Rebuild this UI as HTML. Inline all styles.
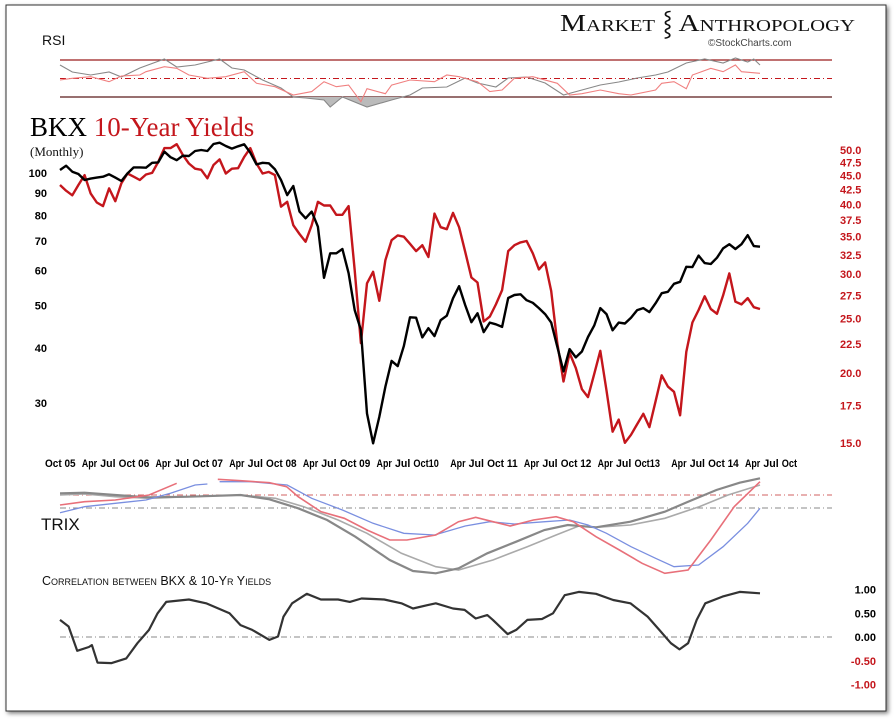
<!DOCTYPE html>
<html><head><meta charset="utf-8">
<style>
html,body{margin:0;padding:0;background:#fff;}
svg{display:block;}
.sans{font-family:"Liberation Sans",sans-serif;}
.serif{font-family:"Liberation Serif",serif;}
.ax{font-family:"Liberation Sans Narrow","Liberation Sans",sans-serif;font-weight:bold;font-size:11px;}
</style></head>
<body>
<svg id="chart" width="896" height="720" viewBox="0 0 896 720" xmlns="http://www.w3.org/2000/svg">
<defs><filter id="sh" x="-5%" y="-5%" width="110%" height="110%"><feDropShadow dx="2" dy="2" stdDeviation="2" flood-color="#000" flood-opacity="0.5"/></filter></defs>
<rect x="6" y="5" width="880" height="706" fill="#fff" stroke="#333" stroke-width="1" filter="url(#sh)"/>
<text class="serif" x="560" y="31" font-size="24" fill="#111" style="font-variant:small-caps" textLength="295" lengthAdjust="spacingAndGlyphs">Market ⸾ Anthropology</text>
<text class="sans" x="708" y="46" font-size="10" fill="#444">©StockCharts.com</text>
<text class="sans" x="42" y="45" font-size="14" fill="#111">RSI</text>
<g id="rsi"></g>
<text class="serif" x="30" y="136" font-size="27" fill="#000">BKX <tspan fill="#c4161c">10-Year Yields</tspan></text>
<text class="serif" x="30" y="156" font-size="13" fill="#111">(Monthly)</text>
<g id="main"></g>
<text class="sans" x="41" y="530" font-size="17" fill="#111">TRIX</text>
<g id="trix"></g>
<text class="sans" x="42" y="585" font-size="12.5" fill="#111" style="font-variant:small-caps">Correlation between BKX &amp; 10-Yr Yields</text>
<g id="corr"></g>
</svg>
<script>
// ---- main chart data (monthly, Oct 2005 .. Apr 2015) ----
const bkx = [101.6,103.9,100.7,99.5,96.4,97.1,97.6,98.1,99.3,97.6,95.9,99.8,103,103,102.8,105.5,105.7,111.8,108.6,106.9,109.5,109.3,112.2,112.8,112.2,116.4,117.2,115.2,113.6,115,116.2,111.2,104.6,105.5,105.2,102,96.4,89.1,93.4,81.7,78.9,81.7,75.5,57.8,65.7,65.7,67.2,59.2,48.8,44,28.4,24.3,27.9,32.7,37.4,36.4,40.4,47,46.9,42.3,44.4,42.6,46.3,47.4,51.9,55.3,50.1,45.8,48,43.5,45.7,45.3,44.7,52,52.8,53,51.4,50.7,49.3,47.8,45.7,40.3,35.4,39.8,38.1,39.3,42.4,45,49.3,47.8,43.9,45.7,45.5,46.9,48.8,49.3,48.3,50.6,53.3,53.7,56,56.6,61.2,61.1,64.9,62.4,62.1,64.2,67.4,68.9,67.2,68.9,72.2,68.2,68];
const yields = [43.3,42.3,41.5,43.3,45.1,41.8,40.3,39.7,42.7,40.5,43.6,45.4,44.8,44.2,45.2,45.5,47.6,50.4,50.4,51.2,49.0,47.3,46.3,46.1,44.5,47.0,48.1,45.4,46.3,46.4,48.6,50.4,47.3,45.4,45.7,45.1,39.6,40.4,36.7,35.4,34.3,36.7,40.4,39.8,39.8,38.3,38.3,39.7,30.5,22.6,28.9,30.3,26.9,31.8,34.5,35.2,35.0,34.0,33.0,33.8,32.2,38.5,36.4,36.1,38.6,36.4,32.9,29.6,29.0,24.7,25.2,26.5,28.1,33.0,33.8,34.2,34.4,32.7,30.6,31.5,28.0,22.6,19.3,21.7,20.4,18.7,18.1,19.9,21.9,18.6,15.7,16.5,15.0,15.5,16.2,16.9,16.0,17.8,19.8,18.9,18.5,16.8,21.8,24.6,25.9,27.4,26.0,25.5,27.5,30.1,26.8,26.5,27.2,26.2,26.0];
const bkxTicks = [100,90,80,70,60,50,40,30];
const yieldTicks = [50.0,47.5,45.0,42.5,40.0,37.5,35.0,32.5,30.0,27.5,25.0,22.5,20.0,17.5,15.0];
const monthLabels = ["Oct 05","Apr","Jul","Oct 06","Apr","Jul","Oct 07","Apr","Jul","Oct 08","Apr","Jul","Oct 09","Apr","Jul","Oct10","Apr","Jul","Oct 11","Apr","Jul","Oct 12","Apr","Jul","Oct13","Apr","Jul","Oct 14","Apr","Jul","Oct"];
const monthLabelIdx = [0,6,9,12,18,21,24,30,33,36,42,45,48,54,57,60,66,69,72,78,81,84,90,93,96,102,105,108,114,117,120];
// ---- RSI ----
const rsiGrayIdx = [0,2,5,8,10,13,17,19,22,26,28,30,33,36,38,40,43,44,46,50,54,57,59,63,66,68,71,73,76,79,82,85,88,91,94,97,99,102,105,108,110,112,113,114];
const rsiGray = [64.6,57,53.8,57,51.6,61.4,71.1,62.4,64.6,71.1,61.4,59.2,48.4,39.7,30,28.9,26.8,19.2,30,19.2,26.8,32.2,39.7,40.8,50.5,45.1,40.8,50.5,51.6,45.1,32.2,37.6,43,46.2,50.5,53.8,57,66.8,71.1,66.8,72.2,67.8,71.1,64.6];
const rsiRedIdx = [0,2,5,8,10,13,14,17,19,21,24,27,30,32,35,38,41,43,45,47,49,50,53,54,57,61,63,65,68,70,72,74,77,81,83,85,88,91,93,97,98,100,102,103,106,108,110,111,114];
const rsiRed = [48.4,50.2,51.9,46.5,52.7,53.8,57.4,62.8,61,53.8,50.2,51.9,57.4,44.8,41.1,32.2,35.8,46.5,41.1,42.9,24.9,39,33.6,42.9,48.4,46.5,53.8,51.9,46.5,35.8,37.6,50.2,51.9,44.8,32.2,33.6,37.6,33.6,32.2,37.6,44.8,46.5,39,53.8,61,57.4,64.6,57.4,55.6];
// ---- TRIX ----
const trixDarkIdx = [0,4,9,14.5,21,29.4,34.1,38.8,43.5,48.1,53.7,57.5,61.2,64.9,69.6,74.3,78.9,82.7,87.3,92.9,98.5,102.3,106.9,110.7,114];
const trixDark = [1.47,1.53,1.3,1.07,1.13,1.3,0.87,-0.03,-1.2,-2.87,-5.2,-6.3,-6.53,-6.03,-4.53,-3.37,-2.2,-1.7,-1.93,-1.37,-0.37,0.63,1.8,2.53,2.97];
const trixLightIdx = [0,4,9,14.5,21,29.4,35.1,39.7,45.3,50,55.6,61.2,64.9,70.5,76.1,80.8,84.5,87.3,92.9,98.5,104.1,108.8,114];
const trixLight = [1.3,1.4,1.13,0.97,1.13,1.3,0.97,0.13,-1.2,-2.53,-4.53,-5.87,-6.2,-5.2,-3.87,-2.7,-1.8,-1.93,-1.7,-1.03,0.13,1.3,2.3];
const trixRedIdx = [0,4,9,14.5,19,22,25.7,29.4,34.1,36.9,38.8,42.5,46.3,50,53.7,56.5,61.2,64.9,67.7,70.5,73.3,77.1,80.8,83.6,87.3,91.1,94.8,98.5,102.3,106,109.8,114];
const trixRed = [0.3,0.63,0.8,1.3,2.47,null,2.87,2.73,2.53,2.13,1.13,-0.37,-1.03,-2.2,-3.2,-3.2,-2.7,-1.37,-0.93,-1.37,-1.8,-1.2,-0.87,-1.37,-2.87,-4.2,-5.53,-6.53,-6.2,-3.2,0.13,2.63];
const trixBlueIdx = [0,4,9,14,18,22,24,25,26,31,37,41,46,51,56,61,66,70,74,79,83,86,89,93,97,100,104,108,112,114];
const trixBlue = [-0.47,0.13,0.47,0.8,1.47,2.3,2.4,null,2.63,2.63,2.3,0.97,-0.2,-1.53,-2.53,-2.7,-1.8,-1.37,-1.6,-1.37,-1.2,-1.7,-2.53,-3.87,-5.03,-5.87,-5.7,-3.87,-1.53,-0.03];
// ---- Correlation ----
const corrIdx = [0,1.4,2.8,4.7,5.2,6.1,8.4,10.8,12.6,14.5,15.9,17.3,21,23.8,27.6,29.4,31.3,34.1,35.5,36.4,37.8,40.2,42.5,45.3,47.2,49.1,52.8,55.6,57.5,59.8,61.2,64,65.9,67.7,69.6,70.5,72.9,74.3,76.1,78.5,80.3,82.2,84.5,87.3,90.1,92.9,95.7,97.6,99.5,100.9,102.3,103.7,105.1,107.9,110.7,114];
const corr = [0.36,0.22,-0.29,-0.21,-0.17,-0.54,-0.55,-0.45,-0.13,0.15,0.5,0.74,0.79,0.71,0.5,0.25,0.15,-0.06,0.01,0.43,0.71,0.91,0.79,0.79,0.74,0.81,0.79,0.71,0.6,0.67,0.71,0.6,0.57,0.39,0.46,0.36,0.06,0.15,0.36,0.38,0.5,0.88,0.95,0.91,0.78,0.71,0.43,0.15,-0.13,-0.26,-0.13,0.36,0.71,0.85,0.95,0.92];
const corrTicks = [1.00,0.50,0.00,-0.50,-1.00];

const NS="http://www.w3.org/2000/svg";
const X = i => 60 + i*6.14;
const yBkx = v => 173 + 440*Math.log10(100/v);
const yYld = v => 150 + 560*Math.log10(50/v);
const yRsi = v => 60 + (70-v)*37/40;
const yTrix = v => 508 - v*10;
const yCorr = v => 637 - v*47.5;
function mk(tag, attrs, parent){const e=document.createElementNS(NS,tag);for(const k in attrs)e.setAttribute(k,attrs[k]);parent.appendChild(e);return e;}
function pathD(idx, vals, fy){let d="",pen=false;for(let i=0;i<vals.length;i++){if(vals[i]===null){pen=false;continue;}d+=(pen?"L":"M")+X(idx?idx[i]:i).toFixed(1)+","+fy(vals[i]).toFixed(1);pen=true;}return d;}
const g=id=>document.getElementById(id);

// RSI panel
const rsi=g('rsi');
let l;
l=mk('line',{x1:60,x2:832,y1:60,y2:60,stroke:'#9b1c1c','stroke-width':1.2},rsi);

l=mk('line',{x1:60,x2:832,y1:78.5,y2:78.5,stroke:'#c4161c','stroke-width':1,'stroke-dasharray':'6,3,1,3'},rsi);

l=mk('line',{x1:60,x2:832,y1:97,y2:97,stroke:'#5a1a1a','stroke-width':1.2},rsi);

const cp=mk('clipPath',{id:'below'},rsi);mk('rect',{x:0,y:97,width:896,height:20},cp);
let a=mk('path',{d:pathD(rsiGrayIdx,rsiGray,yRsi)+'L'+X(114)+',97L'+X(0)+',97Z',fill:'#bbb','clip-path':'url(#below)'},rsi);

let p=mk('path',{d:pathD(rsiGrayIdx,rsiGray,yRsi),fill:'none',stroke:'#888','stroke-width':1.1},rsi);

p=mk('path',{d:pathD(rsiRedIdx,rsiRed,yRsi),fill:'none',stroke:'#f08080','stroke-width':1.1},rsi);


// Main panel
const m=g('main');
bkxTicks.forEach(v=>{const t=mk('text',{x:47,y:yBkx(v)+4,'text-anchor':'end',class:'ax',fill:'#000'},m);t.textContent=v;
});
yieldTicks.forEach(v=>{const t=mk('text',{x:840,y:yYld(v)+4,class:'ax',fill:'#c4161c'},m);t.textContent=v.toFixed(1);
});
monthLabels.forEach((s,i)=>{const t=mk('text',{x:X(monthLabelIdx[i])-15,y:467,class:'ax',fill:'#000',textLength:(s.length*5.1).toFixed(1),lengthAdjust:'spacingAndGlyphs'},m);t.textContent=s;
});
p=mk('path',{d:pathD(null,yields,yYld),fill:'none',stroke:'#c4161c','stroke-width':2.4,'stroke-linejoin':'round'},m);

p=mk('path',{d:pathD(null,bkx,yBkx),fill:'none',stroke:'#000','stroke-width':2.4,'stroke-linejoin':'round'},m);


// TRIX panel
const tr=g('trix');
l=mk('line',{x1:60,x2:832,y1:495,y2:495,stroke:'#d06060','stroke-width':1,'stroke-dasharray':'6,3,1,3'},tr);

l=mk('line',{x1:60,x2:832,y1:508,y2:508,stroke:'#888','stroke-width':1,'stroke-dasharray':'6,3,1,3'},tr);

p=mk('path',{d:pathD(trixLightIdx,trixLight,yTrix),fill:'none',stroke:'#aaa','stroke-width':1.6},tr);

p=mk('path',{d:pathD(trixDarkIdx,trixDark,yTrix),fill:'none',stroke:'#888','stroke-width':2.2},tr);

p=mk('path',{d:pathD(trixBlueIdx,trixBlue,yTrix),fill:'none',stroke:'#7a8fe0','stroke-width':1.3},tr);

p=mk('path',{d:pathD(trixRedIdx,trixRed,yTrix),fill:'none',stroke:'#e8707a','stroke-width':1.6},tr);


// Correlation panel
const c=g('corr');
l=mk('line',{x1:60,x2:832,y1:yCorr(0),y2:yCorr(0),stroke:'#888','stroke-width':1,'stroke-dasharray':'6,3,1,3'},c);

corrTicks.forEach(v=>{const t=mk('text',{x:876,y:yCorr(v)+4,'text-anchor':'end',class:'ax',fill:v<0?'#c4161c':'#000'},c);t.textContent=v.toFixed(2);
});
p=mk('path',{d:pathD(corrIdx,corr,yCorr),fill:'none',stroke:'#333','stroke-width':2.2,'stroke-linejoin':'round'},c);

</script>
</body></html>
